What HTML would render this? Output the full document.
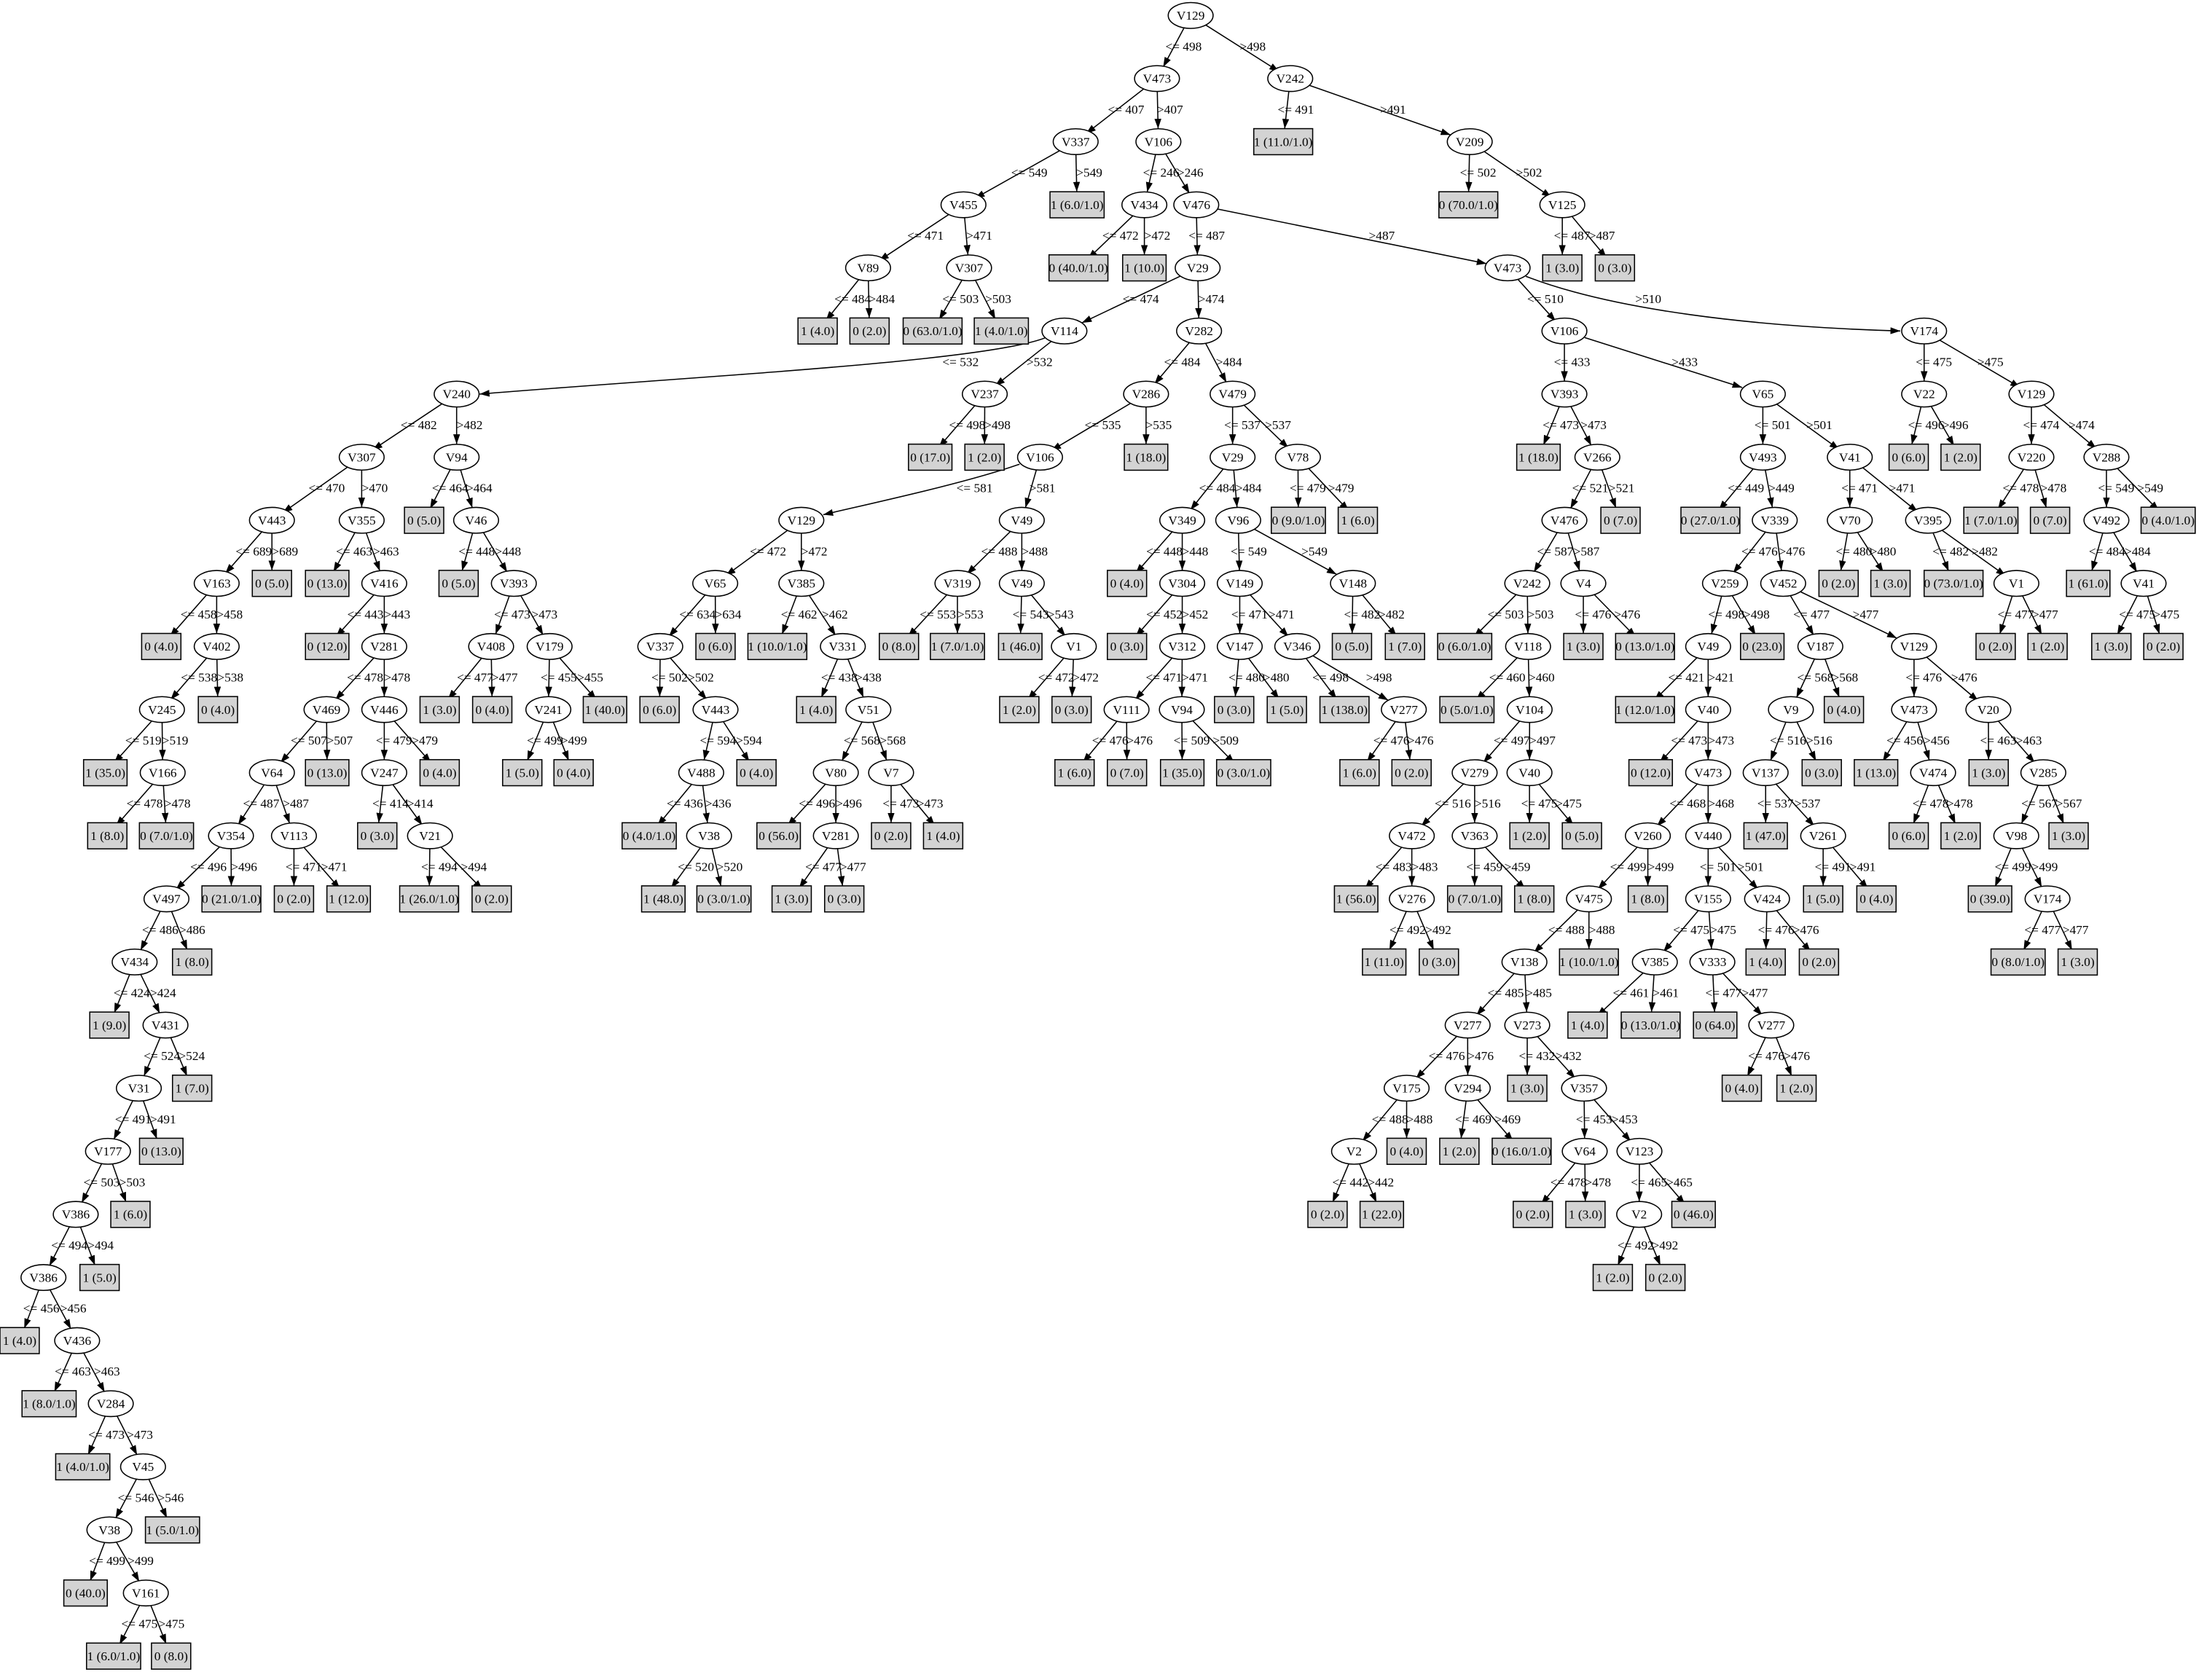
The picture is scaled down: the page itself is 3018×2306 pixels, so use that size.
<!DOCTYPE html>
<html><head><meta charset="utf-8"><style>
html,body{margin:0;padding:0;background:#fff}
svg{display:block}
.e path{stroke:#000;stroke-width:0.8;fill:none;marker-end:url(#a)}
.e path.b{marker-end:url(#b)}
text{font-family:"Liberation Serif",serif;font-size:9px;fill:#000}
.n text,.l text{text-anchor:middle}
.lab text:nth-child(odd){transform:translateX(-5px)}
.lab text:nth-child(even){transform:translateX(-2px)}
</style></head><body>
<svg width="3018" height="2306" viewBox="0 0 1568 1198" xmlns="http://www.w3.org/2000/svg">
<defs>
<marker id="a" viewBox="0 0 10 10" refX="23.3" refY="5" markerWidth="7" markerHeight="7" markerUnits="userSpaceOnUse" orient="auto"><path d="M0,1.5L10,5L0,8.5z" fill="#000"/></marker>
<marker id="b" viewBox="0 0 10 10" refX="10" refY="5" markerWidth="7" markerHeight="7" markerUnits="userSpaceOnUse" orient="auto"><path d="M0,1.5L10,5L0,8.5z" fill="#000"/></marker>
<ellipse id="el" cx="0" cy="0" rx="16" ry="9.2" fill="#fff" stroke="#000" stroke-width="0.8"/>
<rect id="b7" x="-14" y="-9.3" width="28" height="18.6" fill="#d3d3d3" stroke="#000" stroke-width="0.8"/>
<rect id="b8" x="-15.5" y="-9.3" width="31" height="18.6" fill="#d3d3d3" stroke="#000" stroke-width="0.8"/>
<rect id="b9" x="-17.5" y="-9.3" width="35" height="18.6" fill="#d3d3d3" stroke="#000" stroke-width="0.8"/>
<rect id="b11" x="-19.3" y="-9.3" width="38.6" height="18.6" fill="#d3d3d3" stroke="#000" stroke-width="0.8"/>
<rect id="b12" x="-21" y="-9.3" width="42" height="18.6" fill="#d3d3d3" stroke="#000" stroke-width="0.8"/>
</defs>
<g class="e">
<path d="M849 11L825 56"/><path d="M849 11L920 56"/><path d="M920 56L915 101"/><path class="b" d="M933.6 60.8L1034.4 96.2"/><path d="M1048 101L1047 146"/><path d="M1048 101L1114 146"/><path d="M1114 146L1114 191"/><path d="M1114 146L1151.5 191"/>
<path d="M825 56L767 101"/><path d="M825 56L826 101"/><path d="M767 101L687 146"/><path d="M767 101L768 146"/><path d="M687 146L619 191"/><path d="M687 146L691 191"/><path d="M619 191L583 236"/><path d="M619 191L620 236"/><path d="M691 191L665 236"/><path d="M691 191L714 236"/>
<path d="M826 101L816 146"/><path d="M826 101L853 146"/><path d="M816 146L769 191"/><path d="M816 146L816 191"/><path d="M853 146L854 191"/><path class="b" d="M868 149L1060 188"/>
<path class="b" d="M841.6 196.9L771.4 230.2"/><path d="M854 191L855 236"/>
<path class="b" d="M745 241C700 258 500 268 342 281"/><path d="M759 236L702.2 281"/><path d="M702.2 281L663.3 326"/><path d="M702.2 281L702 326"/>
<path d="M325.6 281L257.9 326"/><path d="M325.6 281L325.6 326"/><path d="M257.9 326L193.9 371"/><path d="M257.9 326L257.9 371"/>
<path d="M193.9 371L154.5 416"/><path d="M193.9 371L193.9 416"/><path d="M154.5 416L115 461"/><path d="M154.5 416L154.5 461"/><path d="M154.5 461L115.5 506"/><path d="M154.5 461L155.4 506"/><path d="M115.5 506L75.1 551"/><path d="M115.5 506L116 551"/><path d="M116 551L76.5 596"/><path d="M116 551L118.7 596"/>
<path d="M257.9 371L233.3 416"/><path d="M257.9 371L274 416"/><path d="M274 416L233.3 461"/><path d="M274 416L274 461"/><path d="M274 461L232.8 506"/><path d="M274 461L274 506"/><path d="M232.8 506L193.9 551"/><path d="M232.8 506L233.3 551"/><path d="M193.9 551L164.7 596"/><path d="M193.9 551L209.6 596"/>
<path d="M164.7 596L118.7 641"/><path d="M164.7 596L165 641"/><path d="M118.7 641L96 686"/><path d="M118.7 641L137 686"/><path d="M96 686L78 731"/><path d="M96 686L118 731"/><path d="M118 731L99 776"/><path d="M118 731L137 776"/><path d="M99 776L77 821"/><path d="M99 776L115 821"/>
<path d="M77 821L54 866"/><path d="M77 821L93 866"/><path d="M54 866L31 911"/><path d="M54 866L71 911"/><path d="M31 911L14 956"/><path d="M31 911L55 956"/><path d="M55 956L35 1001"/><path d="M55 956L79 1001"/><path d="M79 1001L59 1046"/><path d="M79 1001L102 1046"/>
<path d="M102 1046L78 1091"/><path d="M102 1046L123 1091"/><path d="M78 1091L61 1136"/><path d="M78 1091L104 1136"/><path d="M104 1136L81 1181"/><path d="M104 1136L122 1181"/>
<path d="M209.6 596L209.6 641"/><path d="M209.6 596L248.6 641"/><path d="M274 506L274 551"/><path d="M274 506L313.5 551"/><path d="M274 551L269 596"/><path d="M274 551L306.6 596"/><path d="M306.6 596L306 641"/><path d="M306.6 596L350.6 641"/>
<path d="M325.6 326L302.4 371"/><path d="M325.6 326L339.5 371"/><path d="M339.5 371L327 416"/><path d="M339.5 371L366.4 416"/><path d="M366.4 416L350.2 461"/><path d="M366.4 416L391.9 461"/><path d="M350.2 461L313.5 506"/><path d="M350.2 461L351 506"/><path d="M391.9 461L391 506"/><path d="M391.9 461L431.4 506"/><path d="M391 506L372.4 551"/><path d="M391 506L409 551"/>
<path d="M855 236L817.2 281"/><path d="M855 236L878.9 281"/><path d="M817.2 281L741.6 326"/><path d="M817.2 281L817.2 326"/><path class="b" d="M727 331C690 344 630 357 587 367"/><path d="M741.6 326L728.6 371"/><path d="M571.4 371L510 416"/><path d="M571.4 371L571.4 416"/>
<path d="M510 416L470.8 461"/><path d="M510 416L510.2 461"/><path d="M470.8 461L470.3 506"/><path d="M470.8 461L510.2 506"/><path d="M510.2 506L500 551"/><path d="M510.2 506L539.4 551"/><path d="M500 551L462.9 596"/><path d="M500 551L505.6 596"/><path d="M505.6 596L473 641"/><path d="M505.6 596L516.2 641"/>
<path d="M571.4 416L554.3 461"/><path d="M571.4 416L601 461"/><path d="M601 461L582 506"/><path d="M601 461L619.2 506"/><path d="M619.2 506L596 551"/><path d="M619.2 506L635.4 551"/><path d="M596 551L555.2 596"/><path d="M596 551L596 596"/><path d="M596 596L564.5 641"/><path d="M596 596L602 641"/><path d="M635.4 551L635.4 596"/><path d="M635.4 551L672.5 596"/>
<path d="M728.6 371L682.7 416"/><path d="M728.6 371L728.6 416"/><path d="M682.7 416L641 461"/><path d="M682.7 416L682.7 461"/><path d="M728.6 416L727.5 461"/><path d="M728.6 416L765.7 461"/><path d="M765.7 461L726.8 506"/><path d="M765.7 461L764.1 506"/>
<path d="M878.9 281L878.9 326"/><path d="M878.9 281L925.5 326"/><path d="M925.5 326L925.8 371"/><path d="M925.5 326L968.2 371"/><path d="M878.9 326L843 371"/><path d="M878.9 326L882.9 371"/><path d="M843 371L803.6 416"/><path d="M843 371L843 416"/><path d="M843 416L803.6 461"/><path d="M843 416L843 461"/>
<path d="M843 461L803.3 506"/><path d="M843 461L842.7 506"/><path d="M803.3 506L766.2 551"/><path d="M803.3 506L803.6 551"/><path d="M842.7 506L843 551"/><path d="M842.7 506L886.8 551"/>
<path d="M882.9 371L884 416"/><path class="b" d="M894.5 377.4L953.1 409.6"/><path d="M884 416L884 461"/><path d="M884 416L925 461"/><path d="M884 461L880 506"/><path d="M884 461L917.6 506"/><path d="M925 461L958.7 506"/><path class="b" d="M936.1 467.6L989.9 499.4"/><path d="M1001 506L969.4 551"/><path d="M1001 506L1006.5 551"/><path d="M964.7 416L964 461"/><path d="M964.7 416L1001.8 461"/>
<path d="M1075 191L1115.5 236"/><path class="b" d="M1088 197C1150 221 1250 233 1355 236"/><path d="M1115.5 236L1115.5 281"/><path class="b" d="M1130 240.7L1242.3 276.3"/><path d="M1115.5 281L1097 326"/><path d="M1115.5 281L1139 326"/><path d="M1139 326L1115.5 371"/><path d="M1139 326L1155.5 371"/><path d="M1115.5 371L1089 416"/><path d="M1115.5 371L1129 416"/>
<path d="M1089 416L1044.4 461"/><path d="M1089 416L1089.6 461"/><path d="M1089.6 461L1046 506"/><path d="M1089.6 461L1090.7 506"/><path d="M1090.7 506L1051.5 551"/><path d="M1090.7 506L1090.6 551"/><path d="M1051.5 551L1006.7 596"/><path d="M1051.5 551L1051.5 596"/><path d="M1006.7 596L967 641"/><path d="M1006.7 596L1006.7 641"/>
<path d="M1006.7 641L987 686"/><path d="M1006.7 641L1026 686"/><path d="M1051.5 596L1051.5 641"/><path d="M1051.5 596L1094 641"/><path d="M1090.6 551L1090.6 596"/><path d="M1090.6 551L1128 596"/><path d="M1129 416L1129 461"/><path d="M1129 416L1173 461"/>
<path d="M1257 281L1257 326"/><path d="M1257 281L1319 326"/><path d="M1257 326L1219.6 371"/><path d="M1257 326L1265.5 371"/><path d="M1265.5 371L1230 416"/><path d="M1265.5 371L1271.5 416"/><path d="M1230 416L1218 461"/><path d="M1230 416L1256.6 461"/><path d="M1218 461L1173 506"/><path d="M1218 461L1218 506"/>
<path d="M1218 506L1177 551"/><path d="M1218 506L1218 551"/><path d="M1218 551L1175 596"/><path d="M1218 551L1218 596"/><path d="M1175 596L1133 641"/><path d="M1175 596L1175 641"/><path d="M1133 641L1087 686"/><path d="M1133 641L1133 686"/><path d="M1087 686L1046.5 731"/><path d="M1087 686L1089 731"/>
<path d="M1046.5 731L1003 776"/><path d="M1046.5 731L1046.6 776"/><path d="M1003 776L965.5 821"/><path d="M1003 776L1003 821"/><path d="M965.5 821L946.6 866"/><path d="M965.5 821L985.3 866"/><path d="M1046.6 776L1040.6 821"/><path d="M1046.6 776L1085 821"/>
<path d="M1089 731L1089 776"/><path d="M1089 731L1129.5 776"/><path d="M1129.5 776L1130 821"/><path d="M1129.5 776L1169 821"/><path d="M1130 821L1093 866"/><path d="M1130 821L1130.5 866"/><path d="M1169 821L1168.8 866"/><path d="M1169 821L1207.6 866"/><path d="M1168.8 866L1150 911"/><path d="M1168.8 866L1187.5 911"/>
<path d="M1218 596L1218 641"/><path d="M1218 596L1260 641"/><path d="M1218 641L1180 686"/><path d="M1218 641L1221 686"/><path d="M1180 686L1132 731"/><path d="M1180 686L1177 731"/><path d="M1221 686L1223 731"/><path d="M1221 686L1263 731"/><path d="M1263 731L1242 776"/><path d="M1263 731L1281 776"/><path d="M1260 641L1259 686"/><path d="M1260 641L1297 686"/>
<path d="M1271.5 416L1298 461"/><path class="b" d="M1283.7 421.9L1352.6 455.1"/><path d="M1298 461L1277 506"/><path d="M1298 461L1314.8 506"/><path d="M1277 506L1259 551"/><path d="M1277 506L1299 551"/><path d="M1259 551L1259 596"/><path d="M1259 551L1300 596"/><path d="M1300 596L1300 641"/><path d="M1300 596L1338 641"/>
<path d="M1364.8 461L1364.8 506"/><path d="M1364.8 461L1417.8 506"/><path d="M1364.8 506L1337.7 551"/><path d="M1364.8 506L1378.4 551"/><path d="M1378.4 551L1361 596"/><path d="M1378.4 551L1398 596"/><path d="M1417.8 506L1418 551"/><path d="M1417.8 506L1457 551"/><path d="M1457 551L1437.7 596"/><path d="M1457 551L1475 596"/><path d="M1437.7 596L1419 641"/><path d="M1437.7 596L1460 641"/><path d="M1460 641L1439 686"/><path d="M1460 641L1481.5 686"/>
<path d="M1319 326L1319 371"/><path d="M1319 326L1374.8 371"/><path d="M1319 371L1311 416"/><path d="M1319 371L1348 416"/><path d="M1374.8 371L1393 416"/><path d="M1374.8 371L1437.8 416"/><path d="M1437.8 416L1423 461"/><path d="M1437.8 416L1460 461"/>
<path d="M1372 236L1372 281"/><path d="M1372 236L1448.5 281"/><path d="M1372 281L1361 326"/><path d="M1372 281L1398 326"/><path d="M1448.5 281L1448.5 326"/><path d="M1448.5 281L1502 326"/><path d="M1448.5 326L1419.6 371"/><path d="M1448.5 326L1461.8 371"/><path d="M1502 326L1502 371"/><path d="M1502 326L1546 371"/><path d="M1502 371L1489 416"/><path d="M1502 371L1528.5 416"/><path d="M1528.5 416L1505.5 461"/><path d="M1528.5 416L1542.6 461"/>
</g>
<g class="n">
<g transform="translate(849,11)"><use href="#el"/><text y="3">V129</text></g>
<g transform="translate(825,56)"><use href="#el"/><text y="3">V473</text></g>
<g transform="translate(920,56)"><use href="#el"/><text y="3">V242</text></g>
<g transform="translate(1048,101)"><use href="#el"/><text y="3">V209</text></g>
<g transform="translate(1114,146)"><use href="#el"/><text y="3">V125</text></g>
<g transform="translate(767,101)"><use href="#el"/><text y="3">V337</text></g>
<g transform="translate(826,101)"><use href="#el"/><text y="3">V106</text></g>
<g transform="translate(687,146)"><use href="#el"/><text y="3">V455</text></g>
<g transform="translate(619,191)"><use href="#el"/><text y="3">V89</text></g>
<g transform="translate(691,191)"><use href="#el"/><text y="3">V307</text></g>
<g transform="translate(816,146)"><use href="#el"/><text y="3">V434</text></g>
<g transform="translate(853,146)"><use href="#el"/><text y="3">V476</text></g>
<g transform="translate(854,191)"><use href="#el"/><text y="3">V29</text></g>
<g transform="translate(1075,191)"><use href="#el"/><text y="3">V473</text></g>
<g transform="translate(759,236)"><use href="#el"/><text y="3">V114</text></g>
<g transform="translate(855,236)"><use href="#el"/><text y="3">V282</text></g>
<g transform="translate(325.6,281)"><use href="#el"/><text y="3">V240</text></g>
<g transform="translate(702.2,281)"><use href="#el"/><text y="3">V237</text></g>
<g transform="translate(257.9,326)"><use href="#el"/><text y="3">V307</text></g>
<g transform="translate(325.6,326)"><use href="#el"/><text y="3">V94</text></g>
<g transform="translate(193.9,371)"><use href="#el"/><text y="3">V443</text></g>
<g transform="translate(257.9,371)"><use href="#el"/><text y="3">V355</text></g>
<g transform="translate(154.5,416)"><use href="#el"/><text y="3">V163</text></g>
<g transform="translate(154.5,461)"><use href="#el"/><text y="3">V402</text></g>
<g transform="translate(115.5,506)"><use href="#el"/><text y="3">V245</text></g>
<g transform="translate(116,551)"><use href="#el"/><text y="3">V166</text></g>
<g transform="translate(274,416)"><use href="#el"/><text y="3">V416</text></g>
<g transform="translate(274,461)"><use href="#el"/><text y="3">V281</text></g>
<g transform="translate(232.8,506)"><use href="#el"/><text y="3">V469</text></g>
<g transform="translate(274,506)"><use href="#el"/><text y="3">V446</text></g>
<g transform="translate(193.9,551)"><use href="#el"/><text y="3">V64</text></g>
<g transform="translate(164.7,596)"><use href="#el"/><text y="3">V354</text></g>
<g transform="translate(209.6,596)"><use href="#el"/><text y="3">V113</text></g>
<g transform="translate(118.7,641)"><use href="#el"/><text y="3">V497</text></g>
<g transform="translate(96,686)"><use href="#el"/><text y="3">V434</text></g>
<g transform="translate(118,731)"><use href="#el"/><text y="3">V431</text></g>
<g transform="translate(99,776)"><use href="#el"/><text y="3">V31</text></g>
<g transform="translate(77,821)"><use href="#el"/><text y="3">V177</text></g>
<g transform="translate(54,866)"><use href="#el"/><text y="3">V386</text></g>
<g transform="translate(31,911)"><use href="#el"/><text y="3">V386</text></g>
<g transform="translate(55,956)"><use href="#el"/><text y="3">V436</text></g>
<g transform="translate(79,1001)"><use href="#el"/><text y="3">V284</text></g>
<g transform="translate(102,1046)"><use href="#el"/><text y="3">V45</text></g>
<g transform="translate(78,1091)"><use href="#el"/><text y="3">V38</text></g>
<g transform="translate(104,1136)"><use href="#el"/><text y="3">V161</text></g>
<g transform="translate(274,551)"><use href="#el"/><text y="3">V247</text></g>
<g transform="translate(306.6,596)"><use href="#el"/><text y="3">V21</text></g>
<g transform="translate(339.5,371)"><use href="#el"/><text y="3">V46</text></g>
<g transform="translate(366.4,416)"><use href="#el"/><text y="3">V393</text></g>
<g transform="translate(350.2,461)"><use href="#el"/><text y="3">V408</text></g>
<g transform="translate(391.9,461)"><use href="#el"/><text y="3">V179</text></g>
<g transform="translate(391,506)"><use href="#el"/><text y="3">V241</text></g>
<g transform="translate(817.2,281)"><use href="#el"/><text y="3">V286</text></g>
<g transform="translate(878.9,281)"><use href="#el"/><text y="3">V479</text></g>
<g transform="translate(741.6,326)"><use href="#el"/><text y="3">V106</text></g>
<g transform="translate(571.4,371)"><use href="#el"/><text y="3">V129</text></g>
<g transform="translate(728.6,371)"><use href="#el"/><text y="3">V49</text></g>
<g transform="translate(510,416)"><use href="#el"/><text y="3">V65</text></g>
<g transform="translate(571.4,416)"><use href="#el"/><text y="3">V385</text></g>
<g transform="translate(470.8,461)"><use href="#el"/><text y="3">V337</text></g>
<g transform="translate(510.2,506)"><use href="#el"/><text y="3">V443</text></g>
<g transform="translate(500,551)"><use href="#el"/><text y="3">V488</text></g>
<g transform="translate(505.6,596)"><use href="#el"/><text y="3">V38</text></g>
<g transform="translate(601,461)"><use href="#el"/><text y="3">V331</text></g>
<g transform="translate(619.2,506)"><use href="#el"/><text y="3">V51</text></g>
<g transform="translate(596,551)"><use href="#el"/><text y="3">V80</text></g>
<g transform="translate(635.4,551)"><use href="#el"/><text y="3">V7</text></g>
<g transform="translate(596,596)"><use href="#el"/><text y="3">V281</text></g>
<g transform="translate(682.7,416)"><use href="#el"/><text y="3">V319</text></g>
<g transform="translate(728.6,416)"><use href="#el"/><text y="3">V49</text></g>
<g transform="translate(765.7,461)"><use href="#el"/><text y="3">V1</text></g>
<g transform="translate(878.9,326)"><use href="#el"/><text y="3">V29</text></g>
<g transform="translate(925.5,326)"><use href="#el"/><text y="3">V78</text></g>
<g transform="translate(843,371)"><use href="#el"/><text y="3">V349</text></g>
<g transform="translate(882.9,371)"><use href="#el"/><text y="3">V96</text></g>
<g transform="translate(843,416)"><use href="#el"/><text y="3">V304</text></g>
<g transform="translate(843,461)"><use href="#el"/><text y="3">V312</text></g>
<g transform="translate(803.3,506)"><use href="#el"/><text y="3">V111</text></g>
<g transform="translate(842.7,506)"><use href="#el"/><text y="3">V94</text></g>
<g transform="translate(884,416)"><use href="#el"/><text y="3">V149</text></g>
<g transform="translate(964.7,416)"><use href="#el"/><text y="3">V148</text></g>
<g transform="translate(884,461)"><use href="#el"/><text y="3">V147</text></g>
<g transform="translate(925,461)"><use href="#el"/><text y="3">V346</text></g>
<g transform="translate(1001,506)"><use href="#el"/><text y="3">V277</text></g>
<g transform="translate(1115.5,236)"><use href="#el"/><text y="3">V106</text></g>
<g transform="translate(1372,236)"><use href="#el"/><text y="3">V174</text></g>
<g transform="translate(1115.5,281)"><use href="#el"/><text y="3">V393</text></g>
<g transform="translate(1257,281)"><use href="#el"/><text y="3">V65</text></g>
<g transform="translate(1139,326)"><use href="#el"/><text y="3">V266</text></g>
<g transform="translate(1115.5,371)"><use href="#el"/><text y="3">V476</text></g>
<g transform="translate(1089,416)"><use href="#el"/><text y="3">V242</text></g>
<g transform="translate(1129,416)"><use href="#el"/><text y="3">V4</text></g>
<g transform="translate(1089.6,461)"><use href="#el"/><text y="3">V118</text></g>
<g transform="translate(1090.7,506)"><use href="#el"/><text y="3">V104</text></g>
<g transform="translate(1051.5,551)"><use href="#el"/><text y="3">V279</text></g>
<g transform="translate(1090.6,551)"><use href="#el"/><text y="3">V40</text></g>
<g transform="translate(1006.7,596)"><use href="#el"/><text y="3">V472</text></g>
<g transform="translate(1051.5,596)"><use href="#el"/><text y="3">V363</text></g>
<g transform="translate(1006.7,641)"><use href="#el"/><text y="3">V276</text></g>
<g transform="translate(1257,326)"><use href="#el"/><text y="3">V493</text></g>
<g transform="translate(1319,326)"><use href="#el"/><text y="3">V41</text></g>
<g transform="translate(1265.5,371)"><use href="#el"/><text y="3">V339</text></g>
<g transform="translate(1230,416)"><use href="#el"/><text y="3">V259</text></g>
<g transform="translate(1271.5,416)"><use href="#el"/><text y="3">V452</text></g>
<g transform="translate(1218,461)"><use href="#el"/><text y="3">V49</text></g>
<g transform="translate(1218,506)"><use href="#el"/><text y="3">V40</text></g>
<g transform="translate(1218,551)"><use href="#el"/><text y="3">V473</text></g>
<g transform="translate(1175,596)"><use href="#el"/><text y="3">V260</text></g>
<g transform="translate(1218,596)"><use href="#el"/><text y="3">V440</text></g>
<g transform="translate(1133,641)"><use href="#el"/><text y="3">V475</text></g>
<g transform="translate(1087,686)"><use href="#el"/><text y="3">V138</text></g>
<g transform="translate(1046.5,731)"><use href="#el"/><text y="3">V277</text></g>
<g transform="translate(1089,731)"><use href="#el"/><text y="3">V273</text></g>
<g transform="translate(1003,776)"><use href="#el"/><text y="3">V175</text></g>
<g transform="translate(1046.6,776)"><use href="#el"/><text y="3">V294</text></g>
<g transform="translate(965.5,821)"><use href="#el"/><text y="3">V2</text></g>
<g transform="translate(1129.5,776)"><use href="#el"/><text y="3">V357</text></g>
<g transform="translate(1130,821)"><use href="#el"/><text y="3">V64</text></g>
<g transform="translate(1169,821)"><use href="#el"/><text y="3">V123</text></g>
<g transform="translate(1168.8,866)"><use href="#el"/><text y="3">V2</text></g>
<g transform="translate(1218,641)"><use href="#el"/><text y="3">V155</text></g>
<g transform="translate(1260,641)"><use href="#el"/><text y="3">V424</text></g>
<g transform="translate(1180,686)"><use href="#el"/><text y="3">V385</text></g>
<g transform="translate(1221,686)"><use href="#el"/><text y="3">V333</text></g>
<g transform="translate(1263,731)"><use href="#el"/><text y="3">V277</text></g>
<g transform="translate(1298,461)"><use href="#el"/><text y="3">V187</text></g>
<g transform="translate(1364.8,461)"><use href="#el"/><text y="3">V129</text></g>
<g transform="translate(1277,506)"><use href="#el"/><text y="3">V9</text></g>
<g transform="translate(1259,551)"><use href="#el"/><text y="3">V137</text></g>
<g transform="translate(1300,596)"><use href="#el"/><text y="3">V261</text></g>
<g transform="translate(1364.8,506)"><use href="#el"/><text y="3">V473</text></g>
<g transform="translate(1417.8,506)"><use href="#el"/><text y="3">V20</text></g>
<g transform="translate(1378.4,551)"><use href="#el"/><text y="3">V474</text></g>
<g transform="translate(1457,551)"><use href="#el"/><text y="3">V285</text></g>
<g transform="translate(1437.7,596)"><use href="#el"/><text y="3">V98</text></g>
<g transform="translate(1460,641)"><use href="#el"/><text y="3">V174</text></g>
<g transform="translate(1319,371)"><use href="#el"/><text y="3">V70</text></g>
<g transform="translate(1374.8,371)"><use href="#el"/><text y="3">V395</text></g>
<g transform="translate(1437.8,416)"><use href="#el"/><text y="3">V1</text></g>
<g transform="translate(1372,281)"><use href="#el"/><text y="3">V22</text></g>
<g transform="translate(1448.5,281)"><use href="#el"/><text y="3">V129</text></g>
<g transform="translate(1448.5,326)"><use href="#el"/><text y="3">V220</text></g>
<g transform="translate(1502,326)"><use href="#el"/><text y="3">V288</text></g>
<g transform="translate(1502,371)"><use href="#el"/><text y="3">V492</text></g>
<g transform="translate(1528.5,416)"><use href="#el"/><text y="3">V41</text></g>
</g>
<g class="l">
<g transform="translate(915,101)"><use href="#b12"/><text y="3">1 (11.0/1.0)</text></g>
<g transform="translate(1047,146)"><use href="#b12"/><text y="3">0 (70.0/1.0)</text></g>
<g transform="translate(1114,191)"><use href="#b7"/><text y="3">1 (3.0)</text></g>
<g transform="translate(1151.5,191)"><use href="#b7"/><text y="3">0 (3.0)</text></g>
<g transform="translate(768,146)"><use href="#b11"/><text y="3">1 (6.0/1.0)</text></g>
<g transform="translate(583,236)"><use href="#b7"/><text y="3">1 (4.0)</text></g>
<g transform="translate(620,236)"><use href="#b7"/><text y="3">0 (2.0)</text></g>
<g transform="translate(665,236)"><use href="#b12"/><text y="3">0 (63.0/1.0)</text></g>
<g transform="translate(714,236)"><use href="#b11"/><text y="3">1 (4.0/1.0)</text></g>
<g transform="translate(769,191)"><use href="#b12"/><text y="3">0 (40.0/1.0)</text></g>
<g transform="translate(816,191)"><use href="#b8"/><text y="3">1 (10.0)</text></g>
<g transform="translate(663.3,326)"><use href="#b8"/><text y="3">0 (17.0)</text></g>
<g transform="translate(702,326)"><use href="#b7"/><text y="3">1 (2.0)</text></g>
<g transform="translate(193.9,416)"><use href="#b7"/><text y="3">0 (5.0)</text></g>
<g transform="translate(115,461)"><use href="#b7"/><text y="3">0 (4.0)</text></g>
<g transform="translate(155.4,506)"><use href="#b7"/><text y="3">0 (4.0)</text></g>
<g transform="translate(75.1,551)"><use href="#b8"/><text y="3">1 (35.0)</text></g>
<g transform="translate(76.5,596)"><use href="#b7"/><text y="3">1 (8.0)</text></g>
<g transform="translate(118.7,596)"><use href="#b11"/><text y="3">0 (7.0/1.0)</text></g>
<g transform="translate(233.3,416)"><use href="#b8"/><text y="3">0 (13.0)</text></g>
<g transform="translate(233.3,461)"><use href="#b8"/><text y="3">0 (12.0)</text></g>
<g transform="translate(233.3,551)"><use href="#b8"/><text y="3">0 (13.0)</text></g>
<g transform="translate(165,641)"><use href="#b12"/><text y="3">0 (21.0/1.0)</text></g>
<g transform="translate(137,686)"><use href="#b7"/><text y="3">1 (8.0)</text></g>
<g transform="translate(78,731)"><use href="#b7"/><text y="3">1 (9.0)</text></g>
<g transform="translate(137,776)"><use href="#b7"/><text y="3">1 (7.0)</text></g>
<g transform="translate(115,821)"><use href="#b8"/><text y="3">0 (13.0)</text></g>
<g transform="translate(93,866)"><use href="#b7"/><text y="3">1 (6.0)</text></g>
<g transform="translate(71,911)"><use href="#b7"/><text y="3">1 (5.0)</text></g>
<g transform="translate(14,956)"><use href="#b7"/><text y="3">1 (4.0)</text></g>
<g transform="translate(35,1001)"><use href="#b11"/><text y="3">1 (8.0/1.0)</text></g>
<g transform="translate(59,1046)"><use href="#b11"/><text y="3">1 (4.0/1.0)</text></g>
<g transform="translate(123,1091)"><use href="#b11"/><text y="3">1 (5.0/1.0)</text></g>
<g transform="translate(61,1136)"><use href="#b8"/><text y="3">0 (40.0)</text></g>
<g transform="translate(81,1181)"><use href="#b11"/><text y="3">1 (6.0/1.0)</text></g>
<g transform="translate(122,1181)"><use href="#b7"/><text y="3">0 (8.0)</text></g>
<g transform="translate(209.6,641)"><use href="#b7"/><text y="3">0 (2.0)</text></g>
<g transform="translate(248.6,641)"><use href="#b8"/><text y="3">1 (12.0)</text></g>
<g transform="translate(313.5,551)"><use href="#b7"/><text y="3">0 (4.0)</text></g>
<g transform="translate(269,596)"><use href="#b7"/><text y="3">0 (3.0)</text></g>
<g transform="translate(306,641)"><use href="#b12"/><text y="3">1 (26.0/1.0)</text></g>
<g transform="translate(350.6,641)"><use href="#b7"/><text y="3">0 (2.0)</text></g>
<g transform="translate(302.4,371)"><use href="#b7"/><text y="3">0 (5.0)</text></g>
<g transform="translate(327,416)"><use href="#b7"/><text y="3">0 (5.0)</text></g>
<g transform="translate(313.5,506)"><use href="#b7"/><text y="3">1 (3.0)</text></g>
<g transform="translate(351,506)"><use href="#b7"/><text y="3">0 (4.0)</text></g>
<g transform="translate(431.4,506)"><use href="#b8"/><text y="3">1 (40.0)</text></g>
<g transform="translate(372.4,551)"><use href="#b7"/><text y="3">1 (5.0)</text></g>
<g transform="translate(409,551)"><use href="#b7"/><text y="3">0 (4.0)</text></g>
<g transform="translate(817.2,326)"><use href="#b8"/><text y="3">1 (18.0)</text></g>
<g transform="translate(510.2,461)"><use href="#b7"/><text y="3">0 (6.0)</text></g>
<g transform="translate(470.3,506)"><use href="#b7"/><text y="3">0 (6.0)</text></g>
<g transform="translate(539.4,551)"><use href="#b7"/><text y="3">0 (4.0)</text></g>
<g transform="translate(462.9,596)"><use href="#b11"/><text y="3">0 (4.0/1.0)</text></g>
<g transform="translate(473,641)"><use href="#b8"/><text y="3">1 (48.0)</text></g>
<g transform="translate(516.2,641)"><use href="#b11"/><text y="3">0 (3.0/1.0)</text></g>
<g transform="translate(554.3,461)"><use href="#b12"/><text y="3">1 (10.0/1.0)</text></g>
<g transform="translate(582,506)"><use href="#b7"/><text y="3">1 (4.0)</text></g>
<g transform="translate(555.2,596)"><use href="#b8"/><text y="3">0 (56.0)</text></g>
<g transform="translate(564.5,641)"><use href="#b7"/><text y="3">1 (3.0)</text></g>
<g transform="translate(602,641)"><use href="#b7"/><text y="3">0 (3.0)</text></g>
<g transform="translate(635.4,596)"><use href="#b7"/><text y="3">0 (2.0)</text></g>
<g transform="translate(672.5,596)"><use href="#b7"/><text y="3">1 (4.0)</text></g>
<g transform="translate(641,461)"><use href="#b7"/><text y="3">0 (8.0)</text></g>
<g transform="translate(682.7,461)"><use href="#b11"/><text y="3">1 (7.0/1.0)</text></g>
<g transform="translate(727.5,461)"><use href="#b8"/><text y="3">1 (46.0)</text></g>
<g transform="translate(726.8,506)"><use href="#b7"/><text y="3">1 (2.0)</text></g>
<g transform="translate(764.1,506)"><use href="#b7"/><text y="3">0 (3.0)</text></g>
<g transform="translate(925.8,371)"><use href="#b11"/><text y="3">0 (9.0/1.0)</text></g>
<g transform="translate(968.2,371)"><use href="#b7"/><text y="3">1 (6.0)</text></g>
<g transform="translate(803.6,416)"><use href="#b7"/><text y="3">0 (4.0)</text></g>
<g transform="translate(803.6,461)"><use href="#b7"/><text y="3">0 (3.0)</text></g>
<g transform="translate(766.2,551)"><use href="#b7"/><text y="3">1 (6.0)</text></g>
<g transform="translate(803.6,551)"><use href="#b7"/><text y="3">0 (7.0)</text></g>
<g transform="translate(843,551)"><use href="#b8"/><text y="3">1 (35.0)</text></g>
<g transform="translate(886.8,551)"><use href="#b11"/><text y="3">0 (3.0/1.0)</text></g>
<g transform="translate(880,506)"><use href="#b7"/><text y="3">0 (3.0)</text></g>
<g transform="translate(917.6,506)"><use href="#b7"/><text y="3">1 (5.0)</text></g>
<g transform="translate(958.7,506)"><use href="#b9"/><text y="3">1 (138.0)</text></g>
<g transform="translate(969.4,551)"><use href="#b7"/><text y="3">1 (6.0)</text></g>
<g transform="translate(1006.5,551)"><use href="#b7"/><text y="3">0 (2.0)</text></g>
<g transform="translate(964,461)"><use href="#b7"/><text y="3">0 (5.0)</text></g>
<g transform="translate(1001.8,461)"><use href="#b7"/><text y="3">1 (7.0)</text></g>
<g transform="translate(1097,326)"><use href="#b8"/><text y="3">1 (18.0)</text></g>
<g transform="translate(1155.5,371)"><use href="#b7"/><text y="3">0 (7.0)</text></g>
<g transform="translate(1044.4,461)"><use href="#b11"/><text y="3">0 (6.0/1.0)</text></g>
<g transform="translate(1046,506)"><use href="#b11"/><text y="3">0 (5.0/1.0)</text></g>
<g transform="translate(967,641)"><use href="#b8"/><text y="3">1 (56.0)</text></g>
<g transform="translate(987,686)"><use href="#b8"/><text y="3">1 (11.0)</text></g>
<g transform="translate(1026,686)"><use href="#b7"/><text y="3">0 (3.0)</text></g>
<g transform="translate(1051.5,641)"><use href="#b11"/><text y="3">0 (7.0/1.0)</text></g>
<g transform="translate(1094,641)"><use href="#b7"/><text y="3">1 (8.0)</text></g>
<g transform="translate(1090.6,596)"><use href="#b7"/><text y="3">1 (2.0)</text></g>
<g transform="translate(1128,596)"><use href="#b7"/><text y="3">0 (5.0)</text></g>
<g transform="translate(1129,461)"><use href="#b7"/><text y="3">1 (3.0)</text></g>
<g transform="translate(1173,461)"><use href="#b12"/><text y="3">0 (13.0/1.0)</text></g>
<g transform="translate(1219.6,371)"><use href="#b12"/><text y="3">0 (27.0/1.0)</text></g>
<g transform="translate(1256.6,461)"><use href="#b8"/><text y="3">0 (23.0)</text></g>
<g transform="translate(1173,506)"><use href="#b12"/><text y="3">1 (12.0/1.0)</text></g>
<g transform="translate(1177,551)"><use href="#b8"/><text y="3">0 (12.0)</text></g>
<g transform="translate(1175,641)"><use href="#b7"/><text y="3">1 (8.0)</text></g>
<g transform="translate(1133,686)"><use href="#b12"/><text y="3">1 (10.0/1.0)</text></g>
<g transform="translate(1003,821)"><use href="#b7"/><text y="3">0 (4.0)</text></g>
<g transform="translate(946.6,866)"><use href="#b7"/><text y="3">0 (2.0)</text></g>
<g transform="translate(985.3,866)"><use href="#b8"/><text y="3">1 (22.0)</text></g>
<g transform="translate(1040.6,821)"><use href="#b7"/><text y="3">1 (2.0)</text></g>
<g transform="translate(1085,821)"><use href="#b12"/><text y="3">0 (16.0/1.0)</text></g>
<g transform="translate(1089,776)"><use href="#b7"/><text y="3">1 (3.0)</text></g>
<g transform="translate(1093,866)"><use href="#b7"/><text y="3">0 (2.0)</text></g>
<g transform="translate(1130.5,866)"><use href="#b7"/><text y="3">1 (3.0)</text></g>
<g transform="translate(1207.6,866)"><use href="#b8"/><text y="3">0 (46.0)</text></g>
<g transform="translate(1150,911)"><use href="#b7"/><text y="3">1 (2.0)</text></g>
<g transform="translate(1187.5,911)"><use href="#b7"/><text y="3">0 (2.0)</text></g>
<g transform="translate(1132,731)"><use href="#b7"/><text y="3">1 (4.0)</text></g>
<g transform="translate(1177,731)"><use href="#b12"/><text y="3">0 (13.0/1.0)</text></g>
<g transform="translate(1223,731)"><use href="#b8"/><text y="3">0 (64.0)</text></g>
<g transform="translate(1242,776)"><use href="#b7"/><text y="3">0 (4.0)</text></g>
<g transform="translate(1281,776)"><use href="#b7"/><text y="3">1 (2.0)</text></g>
<g transform="translate(1259,686)"><use href="#b7"/><text y="3">1 (4.0)</text></g>
<g transform="translate(1297,686)"><use href="#b7"/><text y="3">0 (2.0)</text></g>
<g transform="translate(1314.8,506)"><use href="#b7"/><text y="3">0 (4.0)</text></g>
<g transform="translate(1299,551)"><use href="#b7"/><text y="3">0 (3.0)</text></g>
<g transform="translate(1259,596)"><use href="#b8"/><text y="3">1 (47.0)</text></g>
<g transform="translate(1300,641)"><use href="#b7"/><text y="3">1 (5.0)</text></g>
<g transform="translate(1338,641)"><use href="#b7"/><text y="3">0 (4.0)</text></g>
<g transform="translate(1337.7,551)"><use href="#b8"/><text y="3">1 (13.0)</text></g>
<g transform="translate(1361,596)"><use href="#b7"/><text y="3">0 (6.0)</text></g>
<g transform="translate(1398,596)"><use href="#b7"/><text y="3">1 (2.0)</text></g>
<g transform="translate(1418,551)"><use href="#b7"/><text y="3">1 (3.0)</text></g>
<g transform="translate(1475,596)"><use href="#b7"/><text y="3">1 (3.0)</text></g>
<g transform="translate(1419,641)"><use href="#b8"/><text y="3">0 (39.0)</text></g>
<g transform="translate(1439,686)"><use href="#b11"/><text y="3">0 (8.0/1.0)</text></g>
<g transform="translate(1481.5,686)"><use href="#b7"/><text y="3">1 (3.0)</text></g>
<g transform="translate(1311,416)"><use href="#b7"/><text y="3">0 (2.0)</text></g>
<g transform="translate(1348,416)"><use href="#b7"/><text y="3">1 (3.0)</text></g>
<g transform="translate(1393,416)"><use href="#b12"/><text y="3">0 (73.0/1.0)</text></g>
<g transform="translate(1423,461)"><use href="#b7"/><text y="3">0 (2.0)</text></g>
<g transform="translate(1460,461)"><use href="#b7"/><text y="3">1 (2.0)</text></g>
<g transform="translate(1361,326)"><use href="#b7"/><text y="3">0 (6.0)</text></g>
<g transform="translate(1398,326)"><use href="#b7"/><text y="3">1 (2.0)</text></g>
<g transform="translate(1419.6,371)"><use href="#b11"/><text y="3">1 (7.0/1.0)</text></g>
<g transform="translate(1461.8,371)"><use href="#b7"/><text y="3">0 (7.0)</text></g>
<g transform="translate(1546,371)"><use href="#b11"/><text y="3">0 (4.0/1.0)</text></g>
<g transform="translate(1489,416)"><use href="#b8"/><text y="3">1 (61.0)</text></g>
<g transform="translate(1505.5,461)"><use href="#b7"/><text y="3">1 (3.0)</text></g>
<g transform="translate(1542.6,461)"><use href="#b7"/><text y="3">0 (2.0)</text></g>
</g>
<g class="lab">
<text x="836" y="36">&lt;= 498</text><text x="886" y="36">&gt;498</text>
<text x="916" y="81">&lt;= 491</text><text x="986" y="81">&gt;491</text>
<text x="795" y="81">&lt;= 407</text><text x="827" y="81">&gt;407</text>
<text x="1046" y="126">&lt;= 502</text><text x="1083" y="126">&gt;502</text>
<text x="726" y="126">&lt;= 549</text><text x="769.5" y="126">&gt;549</text>
<text x="820" y="126">&lt;= 246</text><text x="841.5" y="126">&gt;246</text>
<text x="1113" y="171">&lt;= 487</text><text x="1135" y="171">&gt;487</text>
<text x="652" y="171">&lt;= 471</text><text x="691" y="171">&gt;471</text>
<text x="791" y="171">&lt;= 472</text><text x="818" y="171">&gt;472</text>
<text x="852.5" y="171">&lt;= 487</text><text x="978" y="171">&gt;487</text>
<text x="600" y="216">&lt;= 484</text><text x="621.5" y="216">&gt;484</text>
<text x="677" y="216">&lt;= 503</text><text x="704.5" y="216">&gt;503</text>
<text x="805.5" y="216">&lt;= 474</text><text x="856.5" y="216">&gt;474</text>
<text x="1094" y="216">&lt;= 510</text><text x="1168" y="216">&gt;510</text>
<text x="677" y="261">&lt;= 532</text><text x="734" y="261">&gt;532</text>
<text x="835" y="261">&lt;= 484</text><text x="869" y="261">&gt;484</text>
<text x="1113" y="261">&lt;= 433</text><text x="1194" y="261">&gt;433</text>
<text x="1371" y="261">&lt;= 475</text><text x="1412" y="261">&gt;475</text>
<text x="290.7" y="306">&lt;= 482</text><text x="327.6" y="306">&gt;482</text>
<text x="681.7" y="306">&lt;= 498</text><text x="704" y="306">&gt;498</text>
<text x="778.4" y="306">&lt;= 535</text><text x="819" y="306">&gt;535</text>
<text x="877.9" y="306">&lt;= 537</text><text x="904" y="306">&gt;537</text>
<text x="1105" y="306">&lt;= 473</text><text x="1129" y="306">&gt;473</text>
<text x="1256" y="306">&lt;= 501</text><text x="1290" y="306">&gt;501</text>
<text x="1365.5" y="306">&lt;= 496</text><text x="1387" y="306">&gt;496</text>
<text x="1447.5" y="306">&lt;= 474</text><text x="1477" y="306">&gt;474</text>
<text x="225" y="351">&lt;= 470</text><text x="260" y="351">&gt;470</text>
<text x="313" y="351">&lt;= 464</text><text x="334.5" y="351">&gt;464</text>
<text x="687" y="351">&lt;= 581</text><text x="736" y="351">&gt;581</text>
<text x="860" y="351">&lt;= 484</text><text x="883" y="351">&gt;484</text>
<text x="924.6" y="351">&lt;= 479</text><text x="949" y="351">&gt;479</text>
<text x="1126" y="351">&lt;= 521</text><text x="1149" y="351">&gt;521</text>
<text x="1237" y="351">&lt;= 449</text><text x="1263" y="351">&gt;449</text>
<text x="1318" y="351">&lt;= 471</text><text x="1349" y="351">&gt;471</text>
<text x="1433" y="351">&lt;= 478</text><text x="1457" y="351">&gt;478</text>
<text x="1501" y="351">&lt;= 549</text><text x="1526" y="351">&gt;549</text>
<text x="173" y="396">&lt;= 689</text><text x="196" y="396">&gt;689</text>
<text x="244.6" y="396">&lt;= 463</text><text x="268" y="396">&gt;463</text>
<text x="332" y="396">&lt;= 448</text><text x="355" y="396">&gt;448</text>
<text x="539.7" y="396">&lt;= 472</text><text x="573.4" y="396">&gt;472</text>
<text x="704.6" y="396">&lt;= 488</text><text x="730.6" y="396">&gt;488</text>
<text x="822.3" y="396">&lt;= 448</text><text x="845" y="396">&gt;448</text>
<text x="882.5" y="396">&lt;= 549</text><text x="930" y="396">&gt;549</text>
<text x="1101" y="396">&lt;= 587</text><text x="1124" y="396">&gt;587</text>
<text x="1246.7" y="396">&lt;= 476</text><text x="1270.5" y="396">&gt;476</text>
<text x="1314" y="396">&lt;= 480</text><text x="1335.5" y="396">&gt;480</text>
<text x="1383" y="396">&lt;= 482</text><text x="1408" y="396">&gt;482</text>
<text x="1494.5" y="396">&lt;= 484</text><text x="1517" y="396">&gt;484</text>
<text x="133.7" y="441">&lt;= 458</text><text x="156.5" y="441">&gt;458</text>
<text x="252.6" y="441">&lt;= 443</text><text x="276" y="441">&gt;443</text>
<text x="357.3" y="441">&lt;= 473</text><text x="381" y="441">&gt;473</text>
<text x="489.4" y="441">&lt;= 634</text><text x="512" y="441">&gt;634</text>
<text x="561.8" y="441">&lt;= 462</text><text x="588" y="441">&gt;462</text>
<text x="660.8" y="441">&lt;= 553</text><text x="684.7" y="441">&gt;553</text>
<text x="727" y="441">&lt;= 543</text><text x="749" y="441">&gt;543</text>
<text x="822.3" y="441">&lt;= 452</text><text x="845" y="441">&gt;452</text>
<text x="883" y="441">&lt;= 471</text><text x="906.5" y="441">&gt;471</text>
<text x="963.3" y="441">&lt;= 482</text><text x="985" y="441">&gt;482</text>
<text x="1065.7" y="441">&lt;= 503</text><text x="1091.3" y="441">&gt;503</text>
<text x="1128" y="441">&lt;= 476</text><text x="1153" y="441">&gt;476</text>
<text x="1223" y="441">&lt;= 498</text><text x="1245.3" y="441">&gt;498</text>
<text x="1283.7" y="441">&lt;= 477</text><text x="1323" y="441">&gt;477</text>
<text x="1429.4" y="441">&lt;= 477</text><text x="1451" y="441">&gt;477</text>
<text x="1516" y="441">&lt;= 475</text><text x="1537.5" y="441">&gt;475</text>
<text x="134" y="486">&lt;= 538</text><text x="157" y="486">&gt;538</text>
<text x="252.4" y="486">&lt;= 478</text><text x="276" y="486">&gt;478</text>
<text x="330.8" y="486">&lt;= 477</text><text x="352.6" y="486">&gt;477</text>
<text x="390.5" y="486">&lt;= 455</text><text x="413.6" y="486">&gt;455</text>
<text x="469.5" y="486">&lt;= 502</text><text x="492.5" y="486">&gt;502</text>
<text x="590.5" y="486">&lt;= 438</text><text x="612" y="486">&gt;438</text>
<text x="745.2" y="486">&lt;= 472</text><text x="766.9" y="486">&gt;472</text>
<text x="822" y="486">&lt;= 471</text><text x="844.8" y="486">&gt;471</text>
<text x="881" y="486">&lt;= 480</text><text x="902.8" y="486">&gt;480</text>
<text x="940.8" y="486">&lt;= 498</text><text x="976" y="486">&gt;498</text>
<text x="1066.8" y="486">&lt;= 460</text><text x="1092" y="486">&gt;460</text>
<text x="1194.5" y="486">&lt;= 421</text><text x="1220" y="486">&gt;421</text>
<text x="1286.5" y="486">&lt;= 568</text><text x="1308.4" y="486">&gt;568</text>
<text x="1363.8" y="486">&lt;= 476</text><text x="1393.3" y="486">&gt;476</text>
<text x="94.3" y="531">&lt;= 519</text><text x="117.7" y="531">&gt;519</text>
<text x="212.3" y="531">&lt;= 507</text><text x="235" y="531">&gt;507</text>
<text x="273" y="531">&lt;= 479</text><text x="295.7" y="531">&gt;479</text>
<text x="380.7" y="531">&lt;= 499</text><text x="402" y="531">&gt;499</text>
<text x="504" y="531">&lt;= 594</text><text x="526.8" y="531">&gt;594</text>
<text x="606.6" y="531">&lt;= 568</text><text x="629.3" y="531">&gt;568</text>
<text x="783.7" y="531">&lt;= 476</text><text x="805.4" y="531">&gt;476</text>
<text x="841.8" y="531">&lt;= 509</text><text x="866.7" y="531">&gt;509</text>
<text x="984.2" y="531">&lt;= 476</text><text x="1005.7" y="531">&gt;476</text>
<text x="1070" y="531">&lt;= 497</text><text x="1092.6" y="531">&gt;497</text>
<text x="1196.5" y="531">&lt;= 473</text><text x="1220" y="531">&gt;473</text>
<text x="1267" y="531">&lt;= 516</text><text x="1290" y="531">&gt;516</text>
<text x="1350.2" y="531">&lt;= 456</text><text x="1373.6" y="531">&gt;456</text>
<text x="1416.9" y="531">&lt;= 463</text><text x="1439.4" y="531">&gt;463</text>
<text x="95.2" y="576">&lt;= 478</text><text x="119.3" y="576">&gt;478</text>
<text x="178.3" y="576">&lt;= 487</text><text x="203.7" y="576">&gt;487</text>
<text x="270.5" y="576">&lt;= 414</text><text x="292.3" y="576">&gt;414</text>
<text x="480.4" y="576">&lt;= 436</text><text x="504.8" y="576">&gt;436</text>
<text x="574.6" y="576">&lt;= 496</text><text x="598" y="576">&gt;496</text>
<text x="634.4" y="576">&lt;= 473</text><text x="656" y="576">&gt;473</text>
<text x="1028" y="576">&lt;= 516</text><text x="1053.5" y="576">&gt;516</text>
<text x="1089.6" y="576">&lt;= 475</text><text x="1111.3" y="576">&gt;475</text>
<text x="1195.5" y="576">&lt;= 468</text><text x="1220" y="576">&gt;468</text>
<text x="1258" y="576">&lt;= 537</text><text x="1281.5" y="576">&gt;537</text>
<text x="1368.7" y="576">&lt;= 478</text><text x="1390.2" y="576">&gt;478</text>
<text x="1446.3" y="576">&lt;= 567</text><text x="1468" y="576">&gt;567</text>
<text x="140.7" y="621">&lt;= 496</text><text x="166.8" y="621">&gt;496</text>
<text x="208.6" y="621">&lt;= 471</text><text x="231" y="621">&gt;471</text>
<text x="305.3" y="621">&lt;= 494</text><text x="330.6" y="621">&gt;494</text>
<text x="488.3" y="621">&lt;= 520</text><text x="513" y="621">&gt;520</text>
<text x="579.2" y="621">&lt;= 477</text><text x="601" y="621">&gt;477</text>
<text x="985.8" y="621">&lt;= 483</text><text x="1008.7" y="621">&gt;483</text>
<text x="1050.5" y="621">&lt;= 459</text><text x="1074.7" y="621">&gt;459</text>
<text x="1153" y="621">&lt;= 499</text><text x="1177" y="621">&gt;499</text>
<text x="1217" y="621">&lt;= 501</text><text x="1241" y="621">&gt;501</text>
<text x="1299" y="621">&lt;= 491</text><text x="1321" y="621">&gt;491</text>
<text x="1427.3" y="621">&lt;= 499</text><text x="1450.8" y="621">&gt;499</text>
<text x="106.3" y="666">&lt;= 486</text><text x="129.8" y="666">&gt;486</text>
<text x="995.8" y="666">&lt;= 492</text><text x="1018.3" y="666">&gt;492</text>
<text x="1109" y="666">&lt;= 488</text><text x="1135" y="666">&gt;488</text>
<text x="1198" y="666">&lt;= 475</text><text x="1221.5" y="666">&gt;475</text>
<text x="1258.5" y="666">&lt;= 476</text><text x="1280.5" y="666">&gt;476</text>
<text x="1448.5" y="666">&lt;= 477</text><text x="1472.7" y="666">&gt;477</text>
<text x="86" y="711">&lt;= 424</text><text x="109" y="711">&gt;424</text>
<text x="1065.7" y="711">&lt;= 485</text><text x="1090" y="711">&gt;485</text>
<text x="1155" y="711">&lt;= 461</text><text x="1180.5" y="711">&gt;461</text>
<text x="1221" y="711">&lt;= 477</text><text x="1244" y="711">&gt;477</text>
<text x="107.5" y="756">&lt;= 524</text><text x="129.5" y="756">&gt;524</text>
<text x="1023.7" y="756">&lt;= 476</text><text x="1048.5" y="756">&gt;476</text>
<text x="1088" y="756">&lt;= 432</text><text x="1111.2" y="756">&gt;432</text>
<text x="1251.5" y="756">&lt;= 476</text><text x="1274" y="756">&gt;476</text>
<text x="87" y="801">&lt;= 491</text><text x="109" y="801">&gt;491</text>
<text x="983.2" y="801">&lt;= 488</text><text x="1005" y="801">&gt;488</text>
<text x="1042.6" y="801">&lt;= 469</text><text x="1067.8" y="801">&gt;469</text>
<text x="1128.7" y="801">&lt;= 453</text><text x="1151.2" y="801">&gt;453</text>
<text x="64.5" y="846">&lt;= 503</text><text x="87" y="846">&gt;503</text>
<text x="955" y="846">&lt;= 442</text><text x="977.4" y="846">&gt;442</text>
<text x="1110.5" y="846">&lt;= 478</text><text x="1132.2" y="846">&gt;478</text>
<text x="1167.9" y="846">&lt;= 465</text><text x="1190.3" y="846">&gt;465</text>
<text x="41.5" y="891">&lt;= 494</text><text x="64.5" y="891">&gt;494</text>
<text x="1158.4" y="891">&lt;= 492</text><text x="1180.1" y="891">&gt;492</text>
<text x="21.5" y="936">&lt;= 456</text><text x="45" y="936">&gt;456</text>
<text x="44" y="981">&lt;= 463</text><text x="69" y="981">&gt;463</text>
<text x="68" y="1026">&lt;= 473</text><text x="92.5" y="1026">&gt;473</text>
<text x="89" y="1071">&lt;= 546</text><text x="114.5" y="1071">&gt;546</text>
<text x="68.5" y="1116">&lt;= 499</text><text x="93" y="1116">&gt;499</text>
<text x="91.5" y="1161">&lt;= 475</text><text x="115" y="1161">&gt;475</text>
</g>
</svg>
</body></html>
